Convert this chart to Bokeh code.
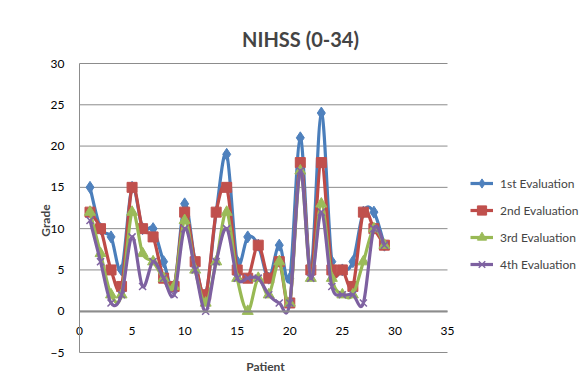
import numpy as np
from bokeh.plotting import figure
from bokeh.models import ColumnDataSource, Legend, LegendItem, Label, FixedTicker, Range1d, LinearAxis
from bokeh.embed import file_html
from bokeh.resources import INLINE

patients = list(range(1, 30))
eval1 = [15, 10, 9, 5, 15, 10, 10, 6, 3, 13, 6, 2, 12, 19, 6, 9, 8, 4, 8, 4, 21, 5, 24, 6, 5, 6, 12, 12, 8]
eval2 = [12, 10, 5, 3, 15, 10, 9, 4, 3, 12, 6, 2, 12, 15, 5, 4, 8, 4, 6, 1, 18, 5, 18, 5, 5, 3, 12, 10, 8]
eval3 = [12, 7, 2, 2, 12, 7, 6, 4, 3, 11, 5, 1, 6, 12, 4, 0, 4, 2, 6, 1, 17, 4, 13, 4, 2, 2, 6, 10, 8]
eval4 = [11, 6, 1, 2, 9, 3, 6, 4, 2, 10, 5, 0, 6, 10, 4, 4, 4, 2, 1, 1, 17, 4, 12, 3, 2, 2, 1, 10, 8]
series_names = ["1st Evaluation", "2nd Evaluation", "3rd Evaluation", "4th Evaluation"]
x_ticks = [0, 5, 10, 15, 20, 25, 30, 35]
y_ticks = [-5, 0, 5, 10, 15, 20, 25, 30]

line_colors = ["#4A7EBB", "#BE4B48", "#98B954", "#7D60A0"]
marker_colors = ["#4F81BD", "#C0504D", "#9BBB59", "#8064A2"]
markers = ["diamond", "square", "triangle", "x"]
marker_sizes = [12, 10, 11, 10]

FONT = "Lato"

# Frame covers the whole canvas; plot area is x 0..35 (px 79..447), y -5..30 (px 352..63)
W, H = 585, 383
PX_L, PX_R, PX_T, PX_B = 79.0, 447.0, 63.0, 352.0
sx = (PX_R - PX_L) / 35.0
sy = (PX_B - PX_T) / 35.0
x_lo = 0 - PX_L / sx
x_hi = 35 + (W - PX_R) / sx
y_hi = 30 + PX_T / sy
y_lo = -5 - (H - PX_B) / sy

p = figure(width=W, height=H, output_backend="svg", toolbar_location=None,
           x_range=Range1d(x_lo, x_hi), y_range=Range1d(y_lo, y_hi),
           x_axis_location=None, y_axis_location=None,
           min_border_left=0, min_border_right=0, min_border_top=0, min_border_bottom=0)
p.outline_line_color = None
p.background_fill_color = "white"
p.border_fill_color = "white"
p.grid.visible = False

# horizontal gridlines across the plot area only
grid_src = ColumnDataSource(dict(x0=[x_ticks[0]] * len(y_ticks), x1=[x_ticks[-1]] * len(y_ticks),
                                 y=y_ticks))
p.segment(x0="x0", y0="y", x1="x1", y1="y", source=grid_src, line_color="#8C8C8C", line_width=1)

yax = LinearAxis(fixed_location=0, bounds=(-5, 30), ticker=FixedTicker(ticks=y_ticks))
yax.axis_line_color = "#8C8C8C"
yax.major_tick_line_color = None
yax.minor_tick_line_color = None
yax.major_label_standoff = 9
yax.major_label_text_font = FONT
yax.major_label_text_font_size = "12px"
yax.major_label_text_color = "black"
p.add_layout(yax, "left")

xax = LinearAxis(fixed_location=0, bounds=(0, 35), ticker=FixedTicker(ticks=x_ticks))
xax.axis_line_color = "#8C8C8C"
xax.axis_line_width = 2
xax.major_tick_line_color = None
xax.minor_tick_line_color = None
xax.major_label_standoff = 10
xax.major_label_text_font = FONT
xax.major_label_text_font_size = "12px"
xax.major_label_text_color = "black"
p.add_layout(xax, "below")


def smooth_segments(xs, ys):
    xs = np.asarray(xs, dtype=float)
    ys = np.asarray(ys, dtype=float)
    n = len(xs)
    xp = np.concatenate([[xs[0]], xs, [xs[-1]]])
    yp = np.concatenate([[ys[0]], ys, [ys[-1]]])
    x0 = xs[:-1]; y0 = ys[:-1]; x1 = xs[1:]; y1 = ys[1:]
    cx0 = x0 + (xp[2:n + 1] - xp[0:n - 1]) / 6.0
    cy0 = y0 + (yp[2:n + 1] - yp[0:n - 1]) / 6.0
    cx1 = x1 - (xp[3:n + 2] - xp[1:n]) / 6.0
    cy1 = y1 - (yp[3:n + 2] - yp[1:n]) / 6.0
    return dict(x0=x0, y0=y0, x1=x1, y1=y1, cx0=cx0, cy0=cy0, cx1=cx1, cy1=cy1)


items = []
for vals, name, lc, mc, mk, ms in zip([eval1, eval2, eval3, eval4], series_names,
                                       line_colors, marker_colors, markers, marker_sizes):
    seg = ColumnDataSource(smooth_segments(patients, vals))
    r_line = p.bezier(x0="x0", y0="y0", x1="x1", y1="y1", cx0="cx0", cy0="cy0",
                      cx1="cx1", cy1="cy1", source=seg, line_color=lc, line_width=3.2)
    src = ColumnDataSource(dict(x=patients, y=vals))
    if mk == "x":
        r_pts = p.scatter("x", "y", source=src, marker=mk, size=ms, line_color=mc, line_width=1.5)
    else:
        r_pts = p.scatter("x", "y", source=src, marker=mk, size=ms, fill_color=mc, line_color=mc)
    items.append(LegendItem(label=name, renderers=[r_line, r_pts]))

legend = Legend(items=items, location=(470, 107), orientation="vertical",
                glyph_width=23, glyph_height=24, label_height=24, spacing=3,
                label_standoff=7, padding=0, margin=0,
                label_text_font=FONT, label_text_font_size="12px",
                border_line_alpha=0, background_fill_alpha=0)
p.add_layout(legend, "center")

title = Label(x=(300 - PX_L) / sx, y=30 + (PX_T - 38) / sy, text="NIHSS (0-34)",
              text_font=FONT, text_font_size="20px", text_font_style="bold",
              text_align="center", text_baseline="middle")
p.add_layout(title)
xlabel = Label(x=(265 - PX_L) / sx, y=-5 - (366 - PX_B) / sy, text="Patient",
               text_font=FONT, text_font_size="12px", text_font_style="bold",
               text_align="center", text_baseline="middle")
p.add_layout(xlabel)
ylabel = Label(x=(45 - PX_L) / sx, y=-5 + (PX_B - 220) / sy, text="Grade",
               text_font=FONT, text_font_size="12px", text_font_style="bold",
               text_align="center", text_baseline="middle", angle=np.pi / 2)
p.add_layout(ylabel)

open("out.html", "w").write(file_html(p, INLINE))
